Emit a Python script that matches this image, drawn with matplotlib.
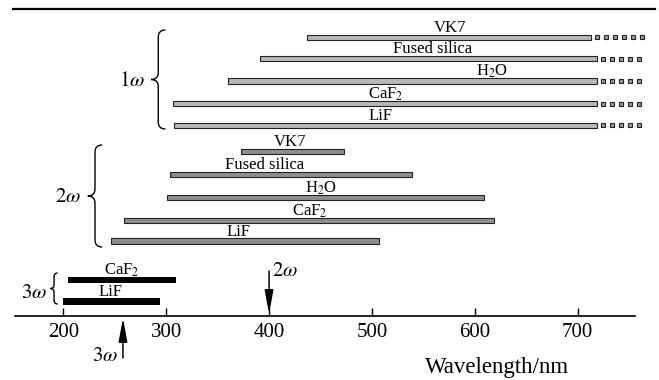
"""Полосы прозрачности материалов для 1ω, 2ω и 3ω."""
import matplotlib

matplotlib.use("Agg")
import matplotlib.pyplot as plt
import numpy as np
from matplotlib.patches import FancyArrowPatch, PathPatch
from matplotlib.path import Path

plt.rcParams["font.family"] = ["Liberation Serif", "DejaVu Serif"]
plt.rcParams["mathtext.fontset"] = "stix"

# Данные: начало и конец полос, нм
LABELS_1W = ["VK7", "Fused silica", "H$_2$O", "CaF$_2$", "LiF"]
START_1W = [437, 391, 360, 307, 308]
END_1W = [713, 719, 719, 719, 719]
DOTS_1W = [6, 5, 5, 5, 5]
LABEL_X_1W = [576, 559, 617, 513, 508]

LABELS_2W = ["VK7", "Fused silica", "H$_2$O", "CaF$_2$", "LiF"]
START_2W = [373, 304, 301, 259, 246]
END_2W = [473, 539, 609, 619, 507]
LABEL_X_2W = [420, 396, 451, 440, 370]

LABELS_3W = ["CaF$_2$", "LiF"]
START_3W = [205, 200]
END_3W = [310, 294]
LABEL_X_3W = [257, 246]

TICKS = [200, 300, 400, 500, 600, 700]
ARROW_2W = 400
ARROW_3W = 258

# Раскладка (в пикселях по вертикали)
ROWS_1W = [37.3, 58.7, 81.0, 103.7, 125.3]
ROWS_2W = [151.7, 174.7, 197.7, 220.7, 241.0]
ROWS_3W = [280.0, 301.7]
AXIS_Y = 315.7
X_PX0, PX_PER_NM = 63.3, 1.0288


def brace(ax, x, y0, y1, w, h):
    """Фигурная скобка, острием влево."""
    ym = (y0 + y1) / 2
    verts = [(x + w, y0), (x, y0), (x, y0 + h), (x, ym - h), (x, ym), (x - w, ym),
             (x, ym), (x, ym + h), (x, y1 - h), (x, y1), (x + w, y1)]
    codes = [Path.MOVETO, Path.CURVE3, Path.CURVE3, Path.LINETO, Path.CURVE3,
             Path.CURVE3, Path.CURVE3, Path.CURVE3, Path.LINETO, Path.CURVE3,
             Path.CURVE3]
    ax.add_patch(PathPatch(Path(verts, codes), fill=False, lw=1.0,
                           color="black", clip_on=False))


fig = plt.figure(figsize=(6.59, 3.80), dpi=100)
ax = fig.add_axes([0, 0, 1, 1])
ax.set_xlim(200 - X_PX0 / PX_PER_NM, 200 + (659 - X_PX0) / PX_PER_NM)
ax.set_ylim(380, 0)

# 1ω
ax.barh(ROWS_1W, np.subtract(END_1W, START_1W), left=START_1W, height=5.5,
        color="#b8b8b8", edgecolor="#222222", lw=0.8)
for y, end, n in zip(ROWS_1W, END_1W, DOTS_1W):
    xs = end + 6 + 8.75 * np.arange(n)
    ax.plot(xs, [y] * n, ls="none", marker="s", ms=3.1, mfc="#9a9a9a",
            mec="#222222", mew=0.8, clip_on=False)
for y, x, lab in zip(ROWS_1W, LABEL_X_1W, LABELS_1W):
    ax.text(x, y - 5.5, lab, ha="center", va="baseline", fontsize=12)

# 2ω
ax.barh(ROWS_2W, np.subtract(END_2W, START_2W), left=START_2W, height=5.5,
        color="#8e8e8e", edgecolor="#222222", lw=0.8)
for y, x, lab in zip(ROWS_2W, LABEL_X_2W, LABELS_2W):
    ax.text(x, y - 5.5, lab, ha="center", va="baseline", fontsize=12)

# 3ω
ax.barh(ROWS_3W, np.subtract(END_3W, START_3W), left=START_3W, height=6.5,
        color="black")
for y, x, lab in zip(ROWS_3W, LABEL_X_3W, LABELS_3W):
    ax.text(x, y - 5.5, lab, ha="center", va="baseline", fontsize=12)

# Скобки и подписи гармоник
brace(ax, 292.3, 30, 129, 7, 7)
brace(ax, 230.8, 145, 247, 7, 7)
brace(ax, 191.0, 273, 304, 3.5, 4)
ax.text(266.5, 81.7, r"$1\omega$", ha="center", va="center", fontsize=15)
ax.text(204.5, 198, r"$2\omega$", ha="center", va="center", fontsize=15)
ax.text(172, 293, r"$3\omega$", ha="center", va="center", fontsize=15)

# Стрелки
for x, y0, y1 in [(ARROW_2W, 271, 314), (ARROW_3W, 358, 318)]:
    ax.add_patch(FancyArrowPatch((x, y0), (x, y1), shrinkA=0, shrinkB=0,
                                 arrowstyle="-|>,head_length=1.2,head_width=0.22",
                                 mutation_scale=12, lw=1.1, color="black"))
ax.text(ARROW_2W + 3, 271.7, r"$2\omega$", ha="left", va="center", fontsize=15)
ax.text(ARROW_3W - 5, 356.7, r"$3\omega$", ha="right", va="center", fontsize=15)

# Верхняя линия
ax.axhline(9, xmin=13 / 659, xmax=655 / 659, color="black", lw=1.6)

# Ось длин волн
for side in ["left", "right", "top"]:
    ax.spines[side].set_visible(False)
ax.spines["bottom"].set_position(("data", AXIS_Y))
ax.spines["bottom"].set_bounds(153, 756)
ax.spines["bottom"].set_linewidth(1.2)
ax.set_yticks([])
ax.set_xticks(TICKS)
ax.tick_params(axis="x", direction="in", length=5.5, width=1.0, labelsize=15,
               pad=5)
ax.set_xlabel("Wavelength/nm", fontsize=16.5)
ax.xaxis.set_label_coords(496.7 / 659, 1 - 368 / 380)
ax.xaxis.label.set_va("center")

fig.savefig("out.png", dpi=100)
